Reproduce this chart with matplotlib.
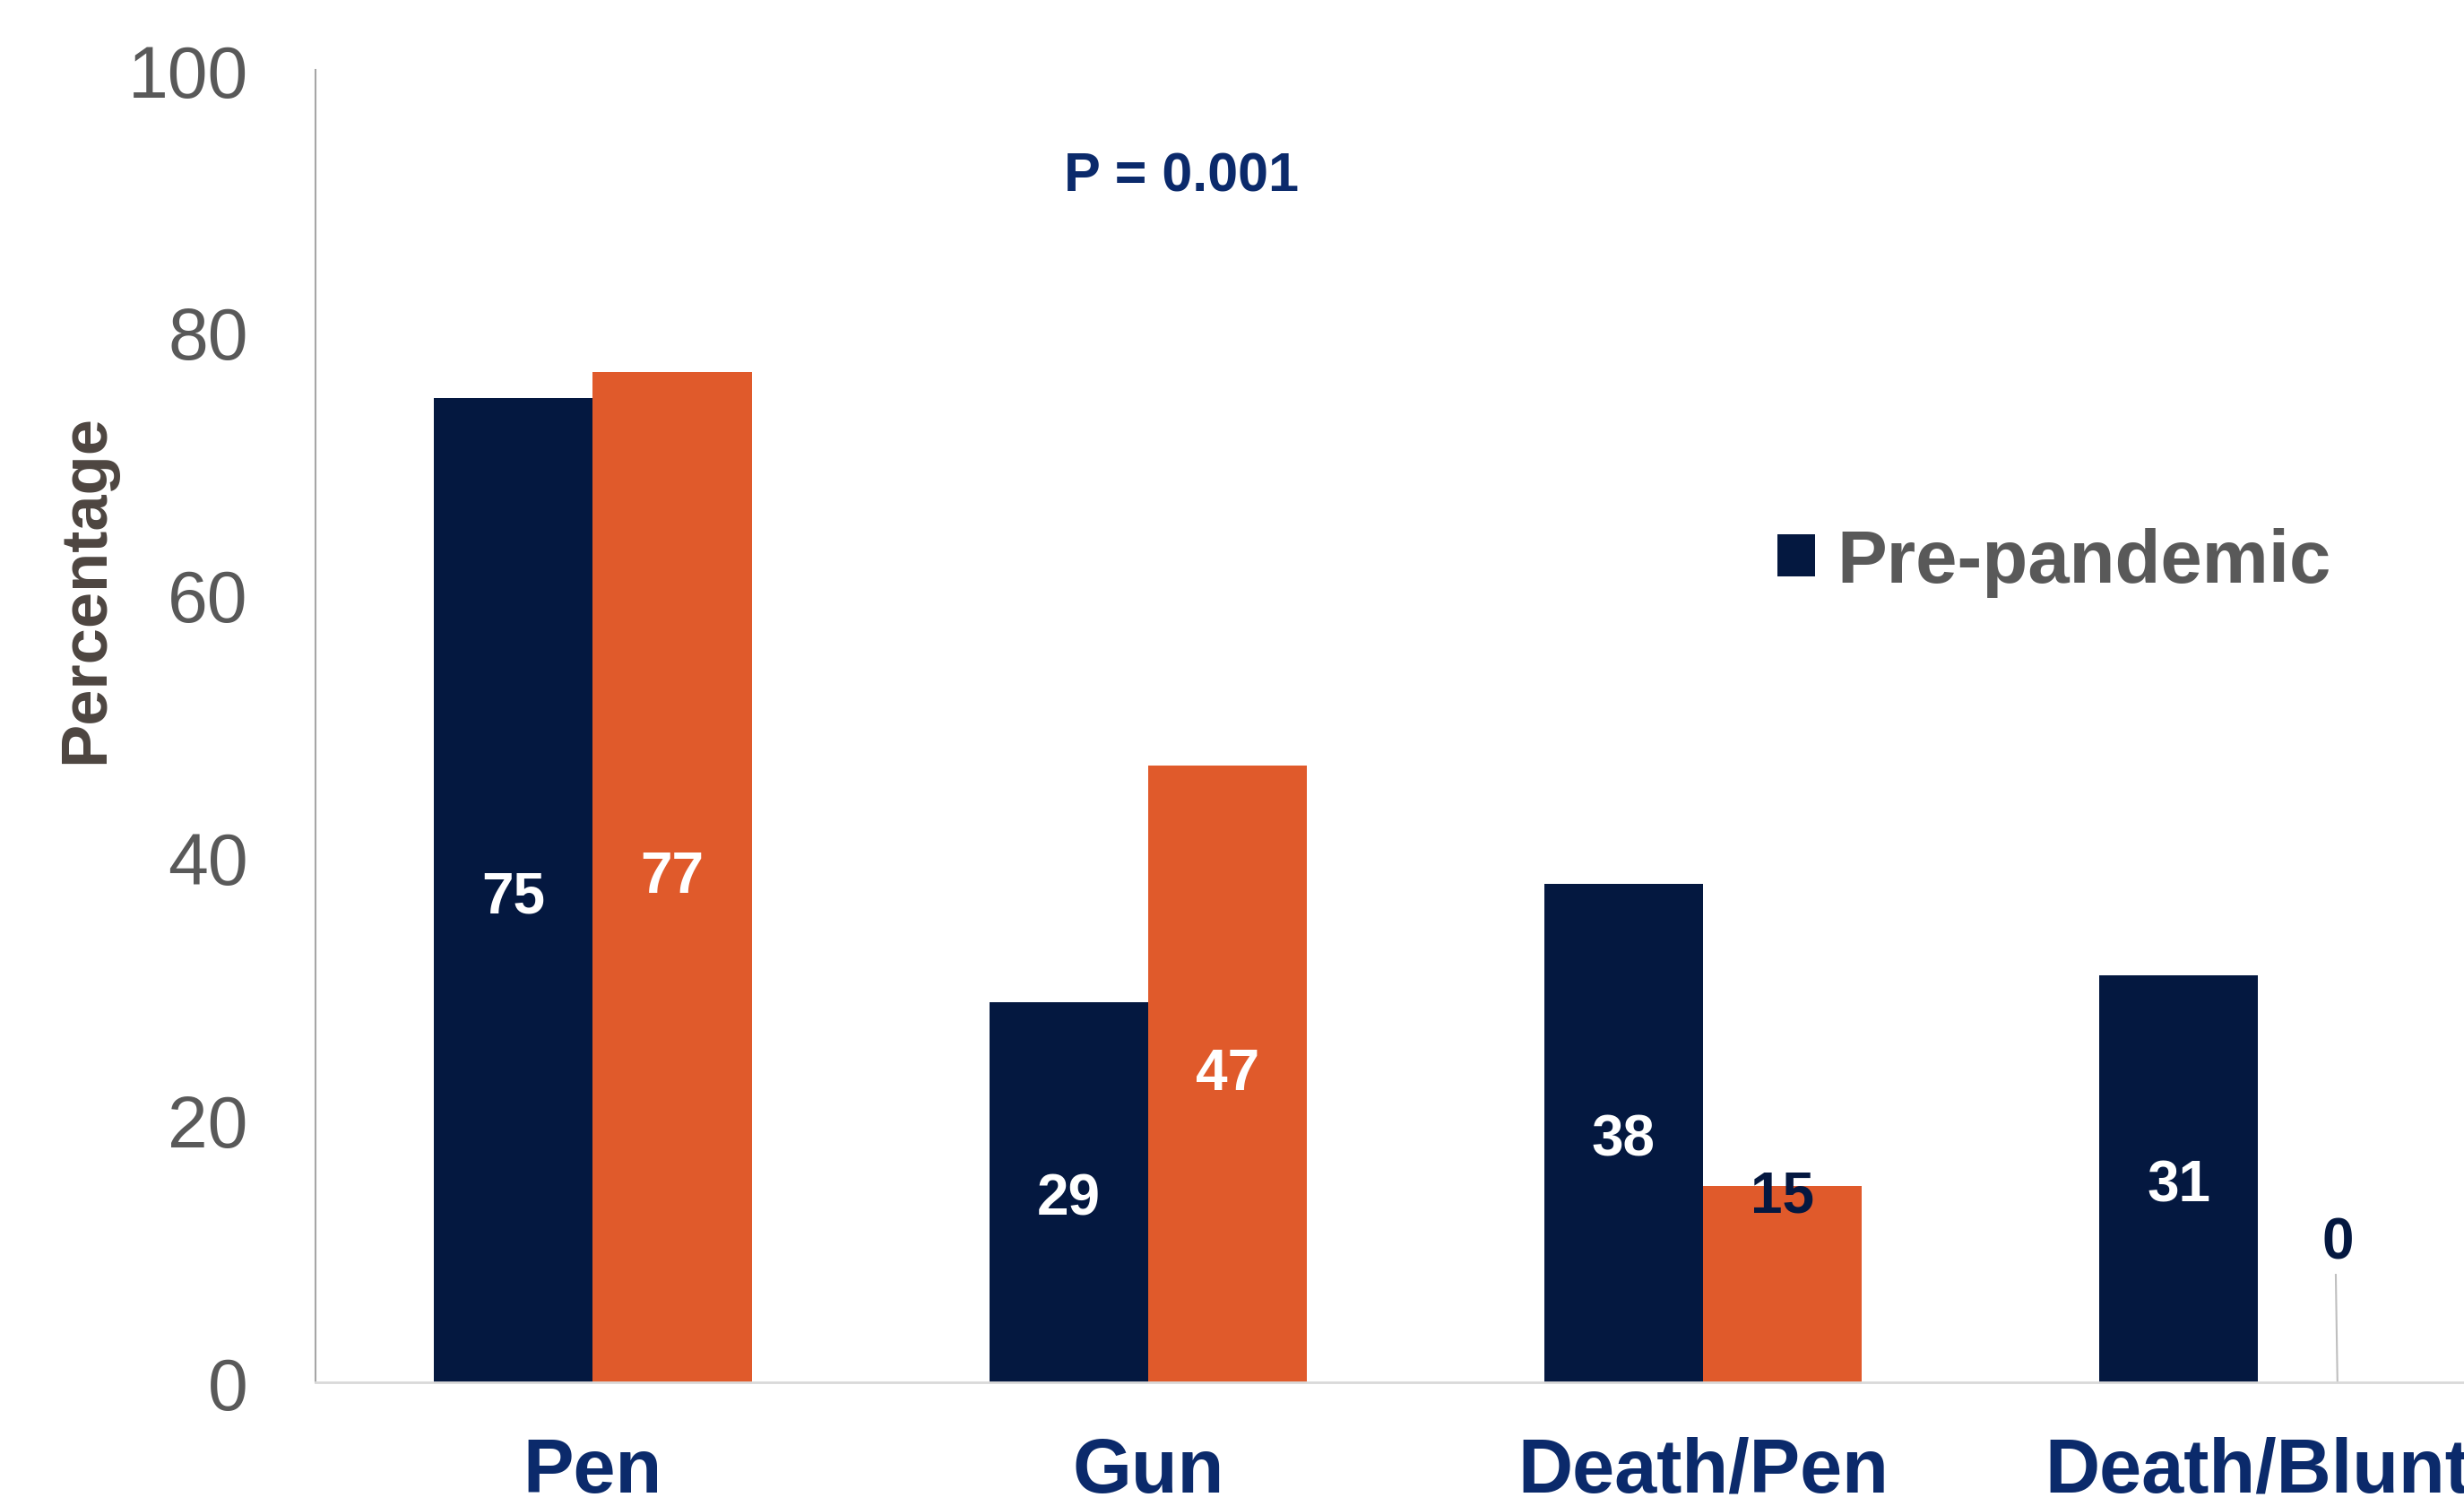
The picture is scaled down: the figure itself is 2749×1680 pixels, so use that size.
import numpy as np
import matplotlib.pyplot as plt

categories = ['Pen', 'Gun', 'Death/Pen', 'Death/Blunt']
pre_pandemic = [75, 29, 38, 31]
pandemic = [77, 47, 15, 0]
series_names = ['Pre-pandemic', 'Pandemic']
p_text = 'P = 0.001'

NAVY = '#041840'
ORANGE = '#E05A2B'
LABEL_BLUE = '#0B2A6B'
GRAY = '#595959'


def main():
    plt.rcParams['font.family'] = ['Liberation Sans', 'DejaVu Sans']

    fig = plt.figure(figsize=(27.49, 16.81), dpi=100)
    ax = fig.add_axes([0.128, 0.082, 0.872, 0.871])

    x = np.arange(len(categories))
    w = 0.286
    b1 = ax.bar(x - w / 2, pre_pandemic, w, color=NAVY, label=series_names[0])
    b2 = ax.bar(x + w / 2, pandemic, w, color=ORANGE, label=series_names[1])

    # data labels, mostly centred in the bar
    for xi, v in zip(x - w / 2, pre_pandemic):
        ax.text(xi, v / 2 - 0.5, str(v), ha='center', va='center', color='white',
                fontsize=46, fontweight='bold')
    for xi, v in zip(x + w / 2, pandemic):
        if v == 0:
            ax.text(xi, 10.6, str(v), ha='center', va='center', color=NAVY,
                    fontsize=46, fontweight='bold')
            ax.plot([xi - 0.003, xi], [8.2, 0], color='#BFBFBF', lw=1.5)
        elif v < 20:
            ax.text(xi, v - 0.8, str(v), ha='center', va='center', color=NAVY,
                    fontsize=46, fontweight='bold')
        else:
            ax.text(xi, v / 2, str(v), ha='center', va='center', color='white',
                    fontsize=46, fontweight='bold')

    ax.text(1.06, 91.9, p_text, ha='center', va='center', color=LABEL_BLUE,
            fontsize=44, fontweight='bold')

    ax.set_xlim(-0.5, 3.371)
    ax.set_ylim(0, 100)
    ax.set_yticks([0, 20, 40, 60, 80, 100])
    ax.tick_params(axis='y', length=0, pad=54, labelsize=58, labelcolor=GRAY)
    ax.set_xticks(x)
    ax.set_xticklabels(categories)
    ax.tick_params(axis='x', length=0, pad=43, labelsize=61, labelcolor=LABEL_BLUE)
    for t in ax.get_xticklabels():
        t.set_fontweight('bold')

    ax.spines['top'].set_visible(False)
    ax.spines['right'].set_visible(False)
    ax.spines['left'].set_color('#A6A6A6')
    ax.spines['left'].set_linewidth(1.5)
    ax.spines['bottom'].set_color('#D9D9D9')
    ax.spines['bottom'].set_linewidth(2)

    fig.text(0.035, 0.609, 'Percentage', rotation=90, ha='center', va='center',
             color='#4D4540', fontsize=52, fontweight='bold')

    leg = ax.legend(handles=[b1], loc='center left', bbox_to_anchor=(0.663, 0.625),
                    frameon=False, fontsize=60, handlelength=0.5, handleheight=0.5,
                    handletextpad=0.3, borderpad=0)
    for t in leg.get_texts():
        t.set_color(GRAY)
        t.set_fontweight('bold')

    fig.savefig('out.png', dpi=100)


if __name__ == '__main__':
    main()
